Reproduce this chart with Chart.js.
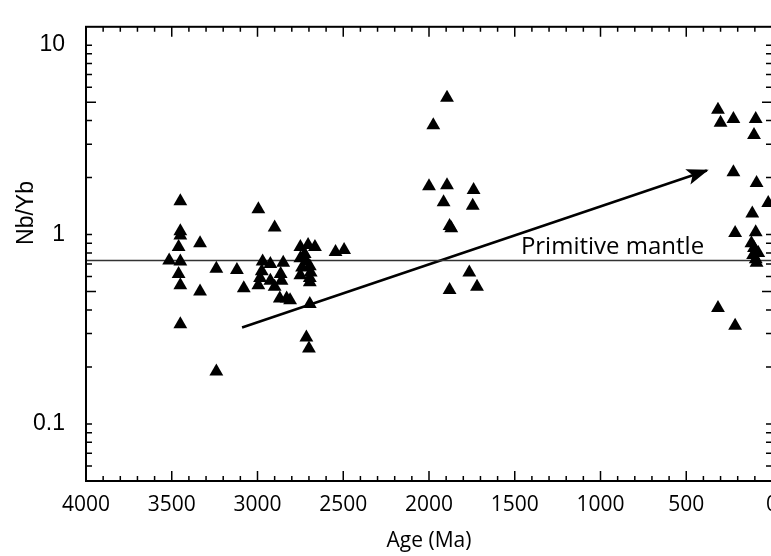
<!DOCTYPE html>
<html lang="en">
<head>
  <meta charset="UTF-8">
  <title>Nb/Yb vs Age</title>
  <script src="https://cdn.jsdelivr.net/npm/chart.js@4/dist/chart.umd.min.js"></script>
  <style>
    html, body { margin: 0; padding: 0; overflow: hidden; background: #fff; }
    canvas { display: block; }
  </style>
</head>
<body>
  <canvas id="chart" width="800" height="556"></canvas>

  <script>
    // sample ages (Ma) and Nb/Yb ratios
    const ages = [
      3450, 3450, 3450, 3460, 3335, 3515, 3450, 3460, 3450, 3335, 3450, 3240, 3240, 3120,
      2995, 2900, 3080, 2970, 2925, 2850, 2975, 2985, 2995, 2925, 2865, 2860, 2900, 2870, 2830, 2810,
      2750, 2705, 2665, 2750, 2715, 2740, 2695, 2750, 2695, 2695, 2695, 2715, 2700, 2725, 2690, 2545, 2495,
      1975, 1895, 2000, 1895, 1740, 1915, 1745, 1880, 1870, 1765, 1880, 1720,
      315, 300, 225, 95, 105, 225, 90, 22, 115, 215, 95, 120, 105, 110, 95, 90, 80, 315, 215
    ];
    const nbYb = [
      1.50, 1.04, 0.99, 0.86, 0.90, 0.73, 0.72, 0.62, 0.54, 0.50, 0.336, 0.189, 0.66, 0.65,
      1.36, 1.09, 0.52, 0.72, 0.70, 0.71, 0.64, 0.59, 0.54, 0.57, 0.62, 0.57, 0.53, 0.46, 0.46, 0.45,
      0.86, 0.88, 0.86, 0.75, 0.72, 0.67, 0.68, 0.61, 0.59, 0.56, 0.43, 0.286, 0.25, 0.79, 0.63, 0.81, 0.83,
      3.78, 5.27, 1.80, 1.82, 1.72, 1.48, 1.42, 1.11, 1.08, 0.63, 0.51, 0.53,
      4.56, 3.89, 4.08, 4.08, 3.35, 2.13, 1.87, 1.47, 1.29, 1.02, 1.03, 0.90, 0.85, 0.78, 0.74, 0.71, 0.80, 0.41, 0.33
    ];

    const primitiveMantle = 0.73;
    const trendAges = [3090, 380];
    const trendValues = [0.323, 2.18];

    const xTicks = [4000, 3500, 3000, 2500, 2000, 1500, 1000, 500, 0];
    const yTicks = [0.1, 1, 10];

    // inward tick marks, frame, arrow head and the text labels
    const frame = {
      id: 'frame',
      afterDatasetsDraw(chart) {
        const { ctx, chartArea: a, scales: { x, y } } = chart;
        ctx.save();
        ctx.strokeStyle = '#000';
        ctx.lineWidth = 1.5;
        ctx.beginPath();
        for (let v = 0; v <= 4000; v += 100) {
          const px = x.getPixelForValue(v);
          const len = v % 500 === 0 ? 10 : 5;
          ctx.moveTo(px, a.bottom); ctx.lineTo(px, a.bottom - len);
          ctx.moveTo(px, a.top); ctx.lineTo(px, a.top + len);
        }
        [0.01, 0.1, 1, 10].forEach(base => {
          for (let m = 1; m <= 9; m++) {
            const v = m * base;
            if (v < y.min || v > y.max) continue;
            const py = y.getPixelForValue(v);
            const len = m === 5 ? 10 : 6;
            ctx.moveTo(a.left, py); ctx.lineTo(a.left + len, py);
            ctx.moveTo(a.right, py); ctx.lineTo(a.right - len, py);
          }
        });
        ctx.stroke();

        ctx.lineWidth = 2;
        ctx.strokeRect(a.left, a.top, a.width, a.height);

        // arrow head at the end of the trend
        const x0 = x.getPixelForValue(trendAges[0]), y0 = y.getPixelForValue(trendValues[0]);
        const x1 = x.getPixelForValue(trendAges[1]), y1 = y.getPixelForValue(trendValues[1]);
        const ang = Math.atan2(y1 - y0, x1 - x0);
        ctx.translate(x1, y1);
        ctx.rotate(ang);
        ctx.fillStyle = '#000';
        ctx.beginPath();
        ctx.moveTo(2, 0);
        ctx.lineTo(-20, -8);
        ctx.lineTo(-15, 0);
        ctx.lineTo(-20, 8);
        ctx.closePath();
        ctx.fill();
        ctx.restore();

        ctx.save();
        ctx.fillStyle = '#000';
        ctx.font = '24px "Open Sans"';
        ctx.textAlign = 'center';
        ctx.textBaseline = 'alphabetic';
        ctx.fillText('Primitive mantle', x.getPixelForValue(930), y.getPixelForValue(primitiveMantle) - 6);

        // y axis title, sits a little above the middle of the axis
        ctx.translate(27, y.getPixelForValue(1.3));
        ctx.rotate(-Math.PI / 2);
        ctx.textBaseline = 'middle';
        ctx.font = '23px "Liberation Sans"';
        ctx.fillText('Nb/Yb', 0, 0);
        ctx.restore();
      }
    };

    document.addEventListener('DOMContentLoaded', function () {
      const ctx = document.getElementById('chart').getContext('2d');

      const config = {
        type: 'scatter',
        data: {
          datasets: [{
            data: ages.map((a, i) => ({ x: a, y: nbYb[i] })),
            pointStyle: 'triangle',
            pointRadius: 8,
            backgroundColor: '#000',
            borderColor: '#000',
            borderWidth: 0
          }, {
            type: 'line',
            data: [{ x: 4000, y: primitiveMantle }, { x: 0, y: primitiveMantle }],
            borderColor: '#333',
            borderWidth: 1.5,
            pointRadius: 0
          }, {
            type: 'line',
            data: trendAges.map((a, i) => ({ x: a, y: trendValues[i] })),
            borderColor: '#000',
            borderWidth: 2.5,
            pointRadius: 0
          }]
        },
        options: {
          responsive: false,
          animation: false,
          layout: { padding: { left: 0, top: 14, right: 28, bottom: 0 } },
          plugins: { legend: { display: false }, tooltip: { enabled: false } },
          scales: {
            x: {
              type: 'linear',
              reverse: true,
              min: 0,
              max: 4000,
              afterBuildTicks: s => { s.ticks = xTicks.map(v => ({ value: v })); },
              afterFit: s => { s.height = 75; },
              grid: { display: false },
              border: { display: false },
              ticks: { color: '#000', font: { family: 'Open Sans', size: 21 }, maxRotation: 0, autoSkip: false, padding: 3, callback: v => String(v) },
              title: { display: true, text: 'Age (Ma)', color: '#000', font: { family: 'Open Sans', size: 21 }, padding: { top: 0, bottom: 2 } }
            },
            y: {
              type: 'logarithmic',
              min: 0.05,
              max: 12.5,
              afterBuildTicks: s => { s.ticks = yTicks.map(v => ({ value: v })); },
              afterFit: s => { s.width = 86; },
              grid: { display: false },
              border: { display: false },
              ticks: { color: '#000', font: { family: 'Liberation Sans', size: 23 }, padding: 13, callback: v => String(v) },
              title: { display: false }
            }
          }
        },
        plugins: [frame]
      };

      new Chart(ctx, config);
    });
  </script>
</body>
</html>
